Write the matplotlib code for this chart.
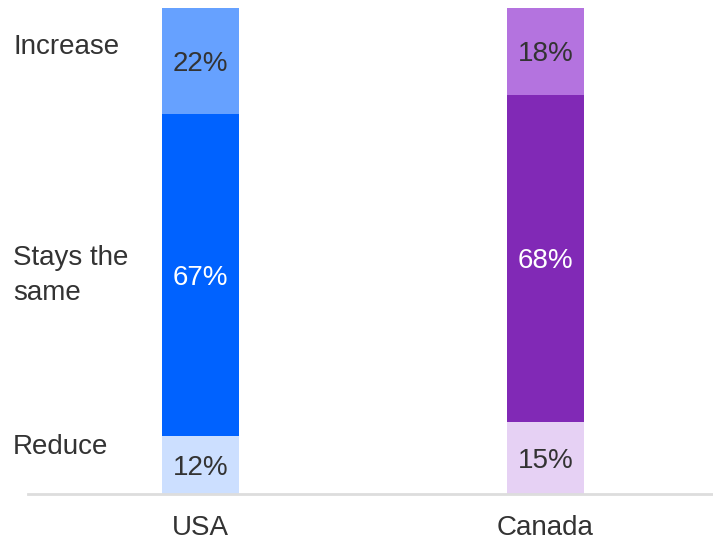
import matplotlib
matplotlib.use("Agg")
import matplotlib.pyplot as plt
import numpy as np

plt.rcParams['font.family'] = ['Liberation Sans', 'DejaVu Sans']

countries = ["USA", "Canada"]
categories = ["Reduce", "Stays the same", "Increase"]
reduce_vals = [12, 15]
same_vals = [67, 68]
increase_vals = [22, 18]

colors = {
    "USA": ["#CCDFFF", "#0062FF", "#66A1FF"],
    "Canada": ["#E6D1F4", "#8129B6", "#B473DF"],
}
text_colors = ["#333333", "#FFFFFF", "#333333"]

W, H = 713, 541
FS = 20
fig = plt.figure(figsize=(W / 100, H / 100), dpi=100)
ax = fig.add_axes([28 / W, (H - 494) / H, (713 - 28) / W, (494 - 8) / H])

x = np.arange(len(countries))
series = [reduce_vals, same_vals, increase_vals]
bottoms = np.zeros(len(countries))
for si, vals in enumerate(series):
    for ci, c in enumerate(countries):
        ax.bar(x[ci], vals[ci], bottom=bottoms[ci], width=0.223,
               color=colors[c][si], linewidth=0)
        ax.text(x[ci], bottoms[ci] + vals[ci] / 2, f"{vals[ci]}%",
                ha="center", va="center_baseline", fontsize=FS, color=text_colors[si])
    bottoms += np.array(vals)

ax.set_xlim(-0.5, 1.4855)
ax.set_ylim(0, 101)
ax.set_yticks([])
ax.set_xticks(x)
ax.set_xticklabels(countries, fontsize=FS, color="#333333")
ax.tick_params(axis="x", length=0, pad=15)
for s in ["top", "right", "left"]:
    ax.spines[s].set_visible(False)
ax.spines["bottom"].set_color("#DDDDDD")
ax.spines["bottom"].set_linewidth(2)

label_y = {"Increase": 44, "Stays the same": 268, "Reduce": 444}
label_txt = {"Increase": "Increase", "Stays the same": "Stays the\nsame", "Reduce": "Reduce"}
for cat in categories:
    fig.text(13 / W, 1 - label_y[cat] / H, label_txt[cat], ha="left", va="center_baseline",
             fontsize=FS, color="#333333", linespacing=1.45)

fig.savefig("out.png", dpi=100)
